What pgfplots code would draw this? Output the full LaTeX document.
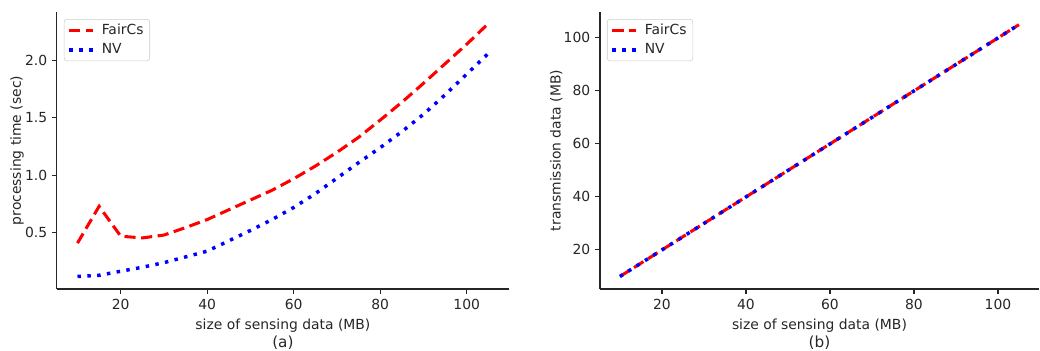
\documentclass[border=0pt]{standalone}
\usepackage{pgfplots}
\pgfplotsset{compat=1.18}
\usepackage{fontspec}
\setmainfont{DejaVu Sans}
\definecolor{txt}{gray}{0.15}
\pgfplotsset{
  mystyle/.style={
    scale only axis,
    axis x line*=bottom, axis y line*=left,
    axis line style={draw=txt, line width=0.8pt, -},
    every tick/.style={draw=txt, line width=0.8pt},
    tick align=outside, major tick length=3.5pt,
    xmin=5.25, xmax=109.75,
    xtick={20,40,60,80,100},
    tick label style={font=\fontsize{10}{12}\selectfont, text=txt},
    /pgf/number format/assume math mode=true,
    label style={font=\fontsize{10}{12}\selectfont, text=txt},
    xlabel style={align=center},
    ylabel shift=-6pt,
    legend style={at={(0,1)}, anchor=north west, xshift=5pt, yshift=-5pt,
      draw=black!20, rounded corners=2pt, fill=white,
      font=\fontsize{10}{12}\selectfont, text=txt,
      inner xsep=2.5pt, inner ysep=1.5pt, row sep=1pt, column sep=3pt},
    legend cell align=left,
  },
  fair/.style={red, line width=2.2pt, dash pattern=on 8pt off 4pt},
  nv/.style={blue, line width=2.5pt, dash pattern=on 2.5pt off 4.6pt},
}
\begin{document}
\begin{tikzpicture}
\useasboundingbox (0,0) rectangle (748.8pt,252pt);
\begin{axis}[mystyle, at={(41pt,43.9pt)}, anchor=south west,
  width=325.4pt, height=199.4pt,
  ymin=0.0105, ymax=2.4195,
  ytick={0.5,1.0,1.5,2.0},
  yticklabel style={/pgf/number format/.cd, fixed, fixed zerofill, precision=1},
  xlabel={size of sensing data (MB)\\[1pt]{\fontsize{11}{13}\selectfont (a)}},
  ylabel={processing time (sec)},
]
\addplot[fair] coordinates {
(10,0.41) (15,0.73) (20,0.47) (25,0.455) (30,0.48) (35,0.545) (40,0.615)
(45,0.70) (50,0.785) (55,0.87) (60,0.97) (65,1.08) (70,1.20) (75,1.33)
(80,1.48) (85,1.635) (90,1.80) (95,1.97) (100,2.14) (105,2.32)};
\addlegendentry{FairCs}
\addplot[nv] coordinates {
(10,0.12) (15,0.13) (20,0.165) (25,0.20) (30,0.24) (35,0.29) (40,0.34)
(45,0.43) (50,0.52) (55,0.615) (60,0.72) (65,0.84) (70,0.975) (75,1.11)
(80,1.24) (85,1.38) (90,1.53) (95,1.70) (100,1.88) (105,2.06)};
\addlegendentry{NV}
\end{axis}
\begin{axis}[mystyle, at={(432pt,43.9pt)}, anchor=south west,
  width=316pt, height=199.4pt,
  ymin=5.25, ymax=109.75,
  ytick={20,40,60,80,100},
  xlabel={size of sensing data (MB)\\[1pt]{\fontsize{11}{13}\selectfont (b)}},
  ylabel={transmission data (MB)},
]
\addplot[fair] coordinates {
(10,10) (15,15) (20,20) (25,25) (30,30) (35,35) (40,40) (45,45) (50,50)
(55,55) (60,60) (65,65) (70,70) (75,75) (80,80) (85,85) (90,90) (95,95)
(100,100) (105,105)};
\addlegendentry{FairCs}
\addplot[nv] coordinates {
(10,10) (15,15) (20,20) (25,25) (30,30) (35,35) (40,40) (45,45) (50,50)
(55,55) (60,60) (65,65) (70,70) (75,75) (80,80) (85,85) (90,90) (95,95)
(100,100) (105,105)};
\addlegendentry{NV}
\end{axis}
\end{tikzpicture}
\end{document}
